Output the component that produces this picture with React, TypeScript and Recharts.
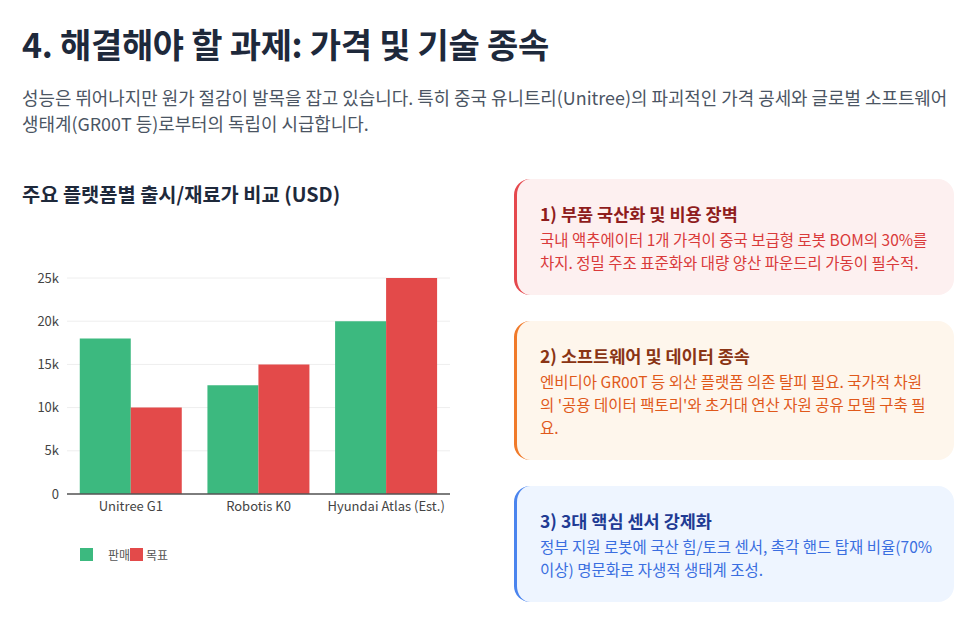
import React from "react";
import { BarChart, Bar, XAxis, YAxis, CartesianGrid, Legend } from "recharts";

const platforms = ["Unitree G1", "Robotis K0", "Hyundai Atlas (Est.)"];
const salePrice = [18000, 12600, 20000];
const targetPrice = [10000, 15000, 25000];
const yTicks = [0, 5000, 10000, 15000, 20000, 25000];
const seriesNames = ["판매가", "목표"];
const seriesColors = ["#3cb97f", "#e34a4a"];

const chartData = platforms.map((name, i) => ({
  name,
  sale: salePrice[i],
  target: targetPrice[i],
}));

const cards = [
  {
    title: "1) 부품 국산화 및 비용 장벽",
    body: "국내 액추에이터 1개 가격이 중국 보급형 로봇 BOM의 30%를 차지. 정밀 주조 표준화와 대량 양산 파운드리 가동이 필수적.",
    top: 179, height: 116, pad: 17, bg: "#fdf0f0", border: "#e5484d", titleColor: "#8f1d1d", textColor: "#d93a3a",
  },
  {
    title: "2) 소프트웨어 및 데이터 종속",
    body: "엔비디아 GR00T 등 외산 플랫폼 의존 탈피 필요. 국가적 차원의 '공용 데이터 팩토리'와 초거대 연산 자원 공유 모델 구축 필요.",
    top: 321, height: 139, pad: 22, bg: "#fef6ec", border: "#f07a2a", titleColor: "#8a3414", textColor: "#e0591b",
  },
  {
    title: "3) 3대 핵심 센서 강제화",
    body: "정부 지원 로봇에 국산 힘/토크 센서, 촉각 핸드 탑재 비율(70% 이상) 명문화로 자생적 생태계 조성.",
    top: 486, height: 116, pad: 17, bg: "#eef5ff", border: "#4a84ee", titleColor: "#1f3b94", textColor: "#3a6ee0",
  },
];

const font = "'Noto Sans CJK KR', 'Noto Sans', sans-serif";

function OverlapLegend() {
  return (
    <div style={{ position: "relative", height: 16, fontFamily: font, fontSize: 12, color: "#555" }}>
      <span style={{ position: "absolute", left: 80, top: 1, width: 13, height: 13, background: seriesColors[0] }} />
      <span style={{ position: "absolute", left: 108, top: -1 }}>{seriesNames[0]}</span>
      <span style={{ position: "absolute", left: 130, top: 1, width: 13, height: 13, background: seriesColors[1] }} />
      <span style={{ position: "absolute", left: 146, top: -1 }}>{seriesNames[1]}</span>
    </div>
  );
}

export default function App() {
  return (
    <div style={{ position: "absolute", left: 0, top: 0, width: 975, height: 631, background: "#fff", fontFamily: font }}>
      <div style={{ position: "absolute", left: 22, top: 19, fontSize: 34, fontWeight: 700, color: "#1e293b", letterSpacing: -0.3, lineHeight: "50px" }}>
        4. 해결해야 할 과제: 가격 및 기술 종속
      </div>
      <div style={{ position: "absolute", left: 22, top: 84, width: 930, fontSize: 17.9, lineHeight: "26px", color: "#4b5563", wordBreak: "keep-all" }}>
        성능은 뛰어나지만 원가 절감이 발목을 잡고 있습니다. 특히 중국 유니트리(Unitree)의 파괴적인 가격 공세와 글로벌 소프트웨어 생태계(GR00T 등)로부터의 독립이 시급합니다.
      </div>
      <div style={{ position: "absolute", left: 22, top: 179, fontSize: 19.8, fontWeight: 700, color: "#1e293b", lineHeight: "30px" }}>
        주요 플랫폼별 출시/재료가 비교 (USD)
      </div>

      <div style={{ position: "absolute", left: 0, top: 250 }}>
        <BarChart
          width={460}
          height={330}
          data={chartData}
          margin={{ top: 28, right: 10, left: 5, bottom: 40 }}
          barCategoryGap="10%"
          barGap={0}
        >
          <CartesianGrid vertical={false} stroke="#eeeeee" />
          <XAxis
            dataKey="name"
            tick={{ fontSize: 13, fill: "#444", fontFamily: font }}
            tickLine={false}
            axisLine={{ stroke: "#555", strokeWidth: 1.5 }}
            interval={0}
            height={30}
          />
          <YAxis
            width={62}
            domain={[0, 25000]}
            ticks={yTicks}
            tickFormatter={(v: number) => (v === 0 ? "0" : `${v / 1000}k`)}
            tick={{ fontSize: 13, fill: "#444", fontFamily: font }}
            tickLine={false}
            axisLine={false}
          />
          <Legend
            verticalAlign="bottom"
            align="left"
            wrapperStyle={{ left: 0, top: 297, bottom: "auto", width: 460 }}
            content={() => <OverlapLegend />}
          />
          <Bar dataKey="sale" name={seriesNames[0]} fill={seriesColors[0]} isAnimationActive={false} />
          <Bar dataKey="target" name={seriesNames[1]} fill={seriesColors[1]} isAnimationActive={false} />
        </BarChart>
      </div>

      {cards.map((c) => (
        <div
          key={c.title}
          style={{
            position: "absolute",
            left: 514,
            top: c.top,
            width: 440,
            height: c.height,
            boxSizing: "border-box",
            background: c.bg,
            borderLeft: `3px solid ${c.border}`,
            borderRadius: 16,
            padding: `21px ${c.pad}px 0 23px`,
          }}
        >
          <div style={{ fontSize: 17.5, fontWeight: 700, color: c.titleColor, lineHeight: "28px" }}>{c.title}</div>
          <div style={{ fontSize: 15.5, color: c.textColor, lineHeight: "23px", marginTop: 0 }}>{c.body}</div>
        </div>
      ))}
    </div>
  );
}
